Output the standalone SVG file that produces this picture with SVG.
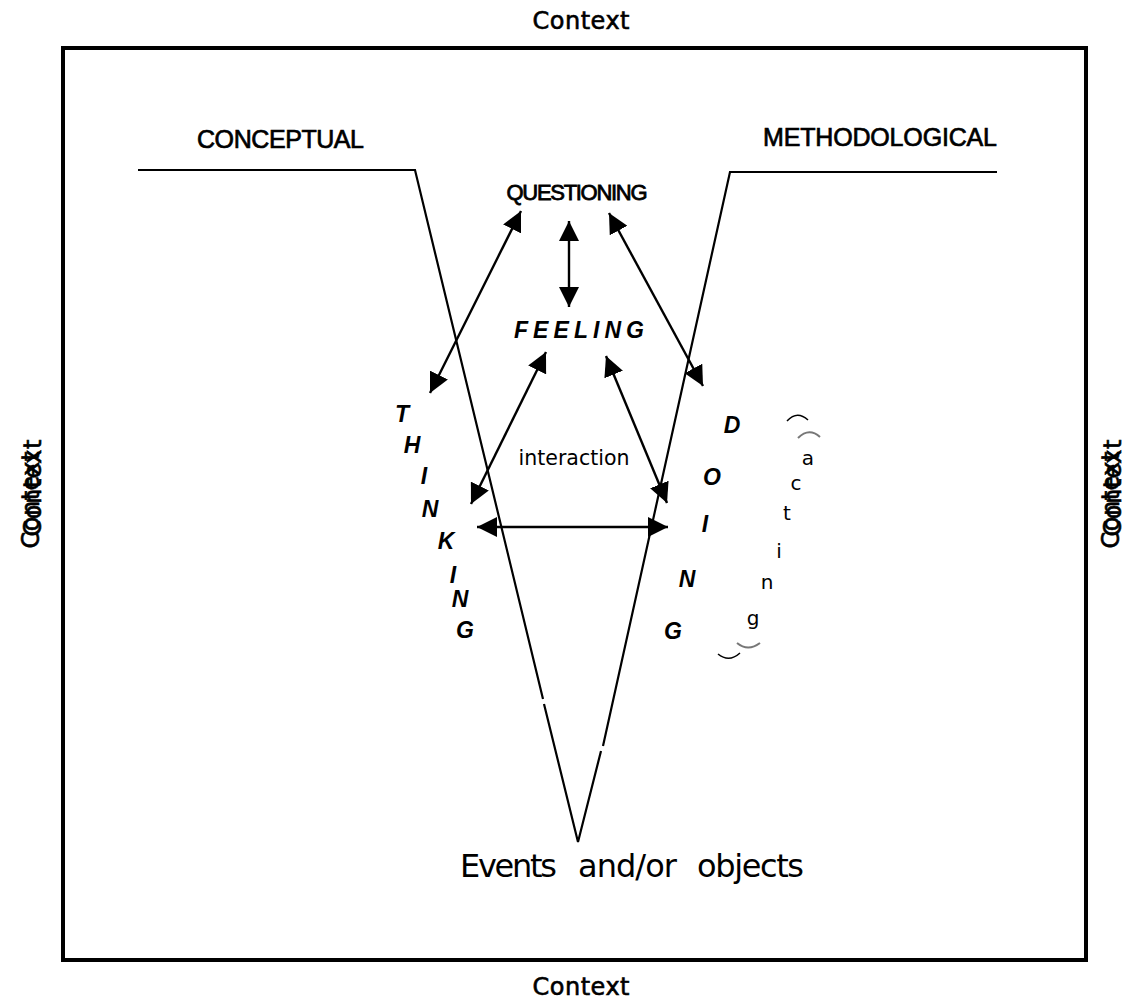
<svg xmlns="http://www.w3.org/2000/svg" width="1127" height="999" viewBox="0 0 1127 999">
  <style>
    .frame { fill: none; stroke: #000; stroke-width: 4; }
    .vee { fill: none; stroke: #000; stroke-width: 2.2; }
    .link { fill: none; stroke: #000; stroke-width: 2.4; }
    .ctx { font-family: "DejaVu Sans", "Liberation Sans", sans-serif; font-size: 24px; fill: #000; stroke: #000; stroke-width: 0.6; }
    .head { font-family: "Liberation Sans", Arial, sans-serif; font-size: 25px; fill: #000; stroke: #000; stroke-width: 0.7; }
    .q { font-family: "Liberation Sans", Arial, sans-serif; font-size: 22px; fill: #000; stroke: #000; stroke-width: 0.8; }
    .stack { font-family: "Liberation Sans", Arial, sans-serif; font-size: 23px; font-weight: bold; font-style: italic; fill: #000; text-anchor: middle; }
    .soft { font-family: "DejaVu Sans", "Liberation Sans", sans-serif; fill: #000; }
    .paren { fill: none; stroke: #000; stroke-width: 1.5; }
    .paren2 { fill: none; stroke: #777; stroke-width: 2; }
  </style>
  <defs>
    <marker id="tip" viewBox="0 0 10 10" refX="10" refY="5" markerWidth="20" markerHeight="20" markerUnits="userSpaceOnUse" orient="auto-start-reverse">
      <path d="M0,0 L10,5 L0,10 Z" fill="#000"/>
    </marker>
  </defs>

  <rect width="1127" height="999" fill="#fff"/>

  <!-- outer frame -->
  <g id="frame">
    <rect class="frame" x="63" y="48" width="1023" height="912"/>
  </g>

  <!-- context labels around the frame -->
  <g id="context-top"><text class="ctx" x="581" y="29" text-anchor="middle" textLength="97">Context</text></g>
  <g id="context-bottom"><text class="ctx" x="581" y="995" text-anchor="middle" textLength="97">Context</text></g>
  <g id="context-left">
    <text class="ctx" transform="translate(41,488) rotate(-90)" text-anchor="middle" textLength="97">Context</text>
    <text class="ctx" transform="translate(39,500) rotate(-90)" text-anchor="middle" textLength="97">Context</text>
  </g>
  <g id="context-right">
    <text class="ctx" transform="translate(1121,488) rotate(-90)" text-anchor="middle" textLength="97">Context</text>
    <text class="ctx" transform="translate(1119,500) rotate(-90)" text-anchor="middle" textLength="97">Context</text>
  </g>

  <!-- the V shape -->
  <g id="vee">
    <polyline class="vee" points="138,170 415,170 543,699"/>
    <polyline class="vee" points="544,704 578,842 601,751"/>
    <polyline class="vee" points="603,746 730,172 997,172"/>
  </g>

  <g id="conceptual"><text class="head" x="197" y="148" textLength="167">CONCEPTUAL</text></g>
  <g id="methodological"><text class="head" x="763" y="146" textLength="234">METHODOLOGICAL</text></g>

  <g id="questioning"><text class="q" x="577" y="200" text-anchor="middle" textLength="141">QUESTIONING</text></g>
  <g id="feeling"><text class="stack" x="579" y="338" font-size="22" textLength="130">FEELING</text></g>
  <g id="interaction"><text class="soft" x="574" y="465" font-size="20.5" text-anchor="middle" textLength="111">interaction</text></g>

  <g id="thinking">
    <text class="stack" x="402" y="422">T</text>
    <text class="stack" x="412" y="453">H</text>
    <text class="stack" x="424" y="484">I</text>
    <text class="stack" x="430" y="517">N</text>
    <text class="stack" x="446" y="549">K</text>
    <text class="stack" x="453" y="583">I</text>
    <text class="stack" x="460" y="607">N</text>
    <text class="stack" x="465" y="638">G</text>
  </g>

  <g id="doing">
    <text class="stack" x="732" y="433">D</text>
    <text class="stack" x="712" y="485">O</text>
    <text class="stack" x="705" y="532">I</text>
    <text class="stack" x="687" y="587">N</text>
    <text class="stack" x="673" y="639">G</text>
  </g>

  <g id="acting">
    <path class="paren" d="M787,421 Q797,410 808,420"/>
    <path class="paren2" d="M798,438 Q809,427 820,437"/>
    <text class="soft" font-size="20" text-anchor="middle" x="808" y="465">a</text>
    <text class="soft" font-size="20" text-anchor="middle" x="796" y="490">c</text>
    <text class="soft" font-size="20" text-anchor="middle" x="787" y="520">t</text>
    <text class="soft" font-size="20" text-anchor="middle" x="779" y="558">i</text>
    <text class="soft" font-size="20" text-anchor="middle" x="767" y="589">n</text>
    <text class="soft" font-size="20" text-anchor="middle" x="753" y="625">g</text>
    <path class="paren2" d="M737,643 Q748,652 760,643"/>
    <path class="paren" d="M718,654 Q729,663 740,653"/>
  </g>

  <g id="events">
    <text class="soft" font-size="32" y="877"><tspan x="460" textLength="97">Events</tspan><tspan x="578" textLength="99">and/or</tspan><tspan x="697" textLength="107">objects</tspan></text>
  </g>

  <!-- double-headed connectors -->
  <g id="connectors">
    <line class="link" x1="521" y1="211" x2="430" y2="393" marker-start="url(#tip)" marker-end="url(#tip)"/>
    <line class="link" x1="569" y1="221" x2="569" y2="307" marker-start="url(#tip)" marker-end="url(#tip)"/>
    <line class="link" x1="609" y1="213" x2="703" y2="386" marker-start="url(#tip)" marker-end="url(#tip)"/>
    <line class="link" x1="546" y1="352" x2="471" y2="504" marker-start="url(#tip)" marker-end="url(#tip)"/>
    <line class="link" x1="606" y1="356" x2="667" y2="503" marker-start="url(#tip)" marker-end="url(#tip)"/>
    <line class="link" x1="477" y1="527" x2="668" y2="527" marker-start="url(#tip)" marker-end="url(#tip)"/>
  </g>
</svg>
